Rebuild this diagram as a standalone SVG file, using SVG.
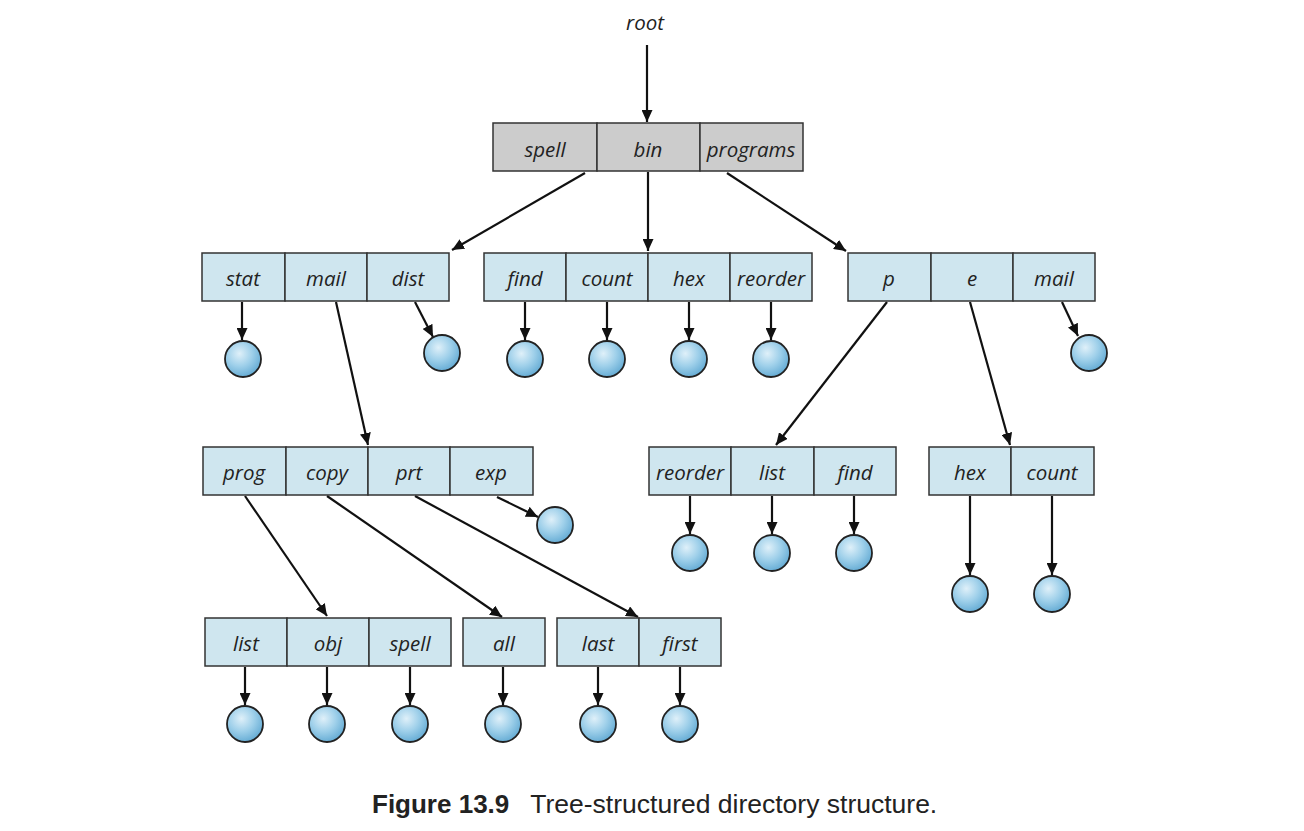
<svg xmlns="http://www.w3.org/2000/svg" width="1304" height="831" viewBox="0 0 1304 831">
<style>
.cell{fill:#cfe6ef;stroke:#333;stroke-width:1.5}
.gray{fill:#cccccc;stroke:#333;stroke-width:1.5}
.lbl{font-family:"Open Sans","Liberation Sans",sans-serif;font-style:italic;font-size:20.5px;fill:#222;text-anchor:middle}
.file{fill:url(#ball);stroke:#222;stroke-width:1.8}
.edge{stroke:#111;stroke-width:2.2;fill:none;marker-end:url(#ah)}
.cap{font-family:"Liberation Sans",Arial,sans-serif;font-size:26px;fill:#222}
</style>
<defs>
<radialGradient id="ball" cx="0.4" cy="0.35" r="0.7">
<stop offset="0" stop-color="#dff0f9"/>
<stop offset="0.5" stop-color="#9fd0ea"/>
<stop offset="1" stop-color="#5fa8d2"/>
</radialGradient>
<marker id="ah" markerWidth="13" markerHeight="11" refX="12" refY="5.5" orient="auto" markerUnits="userSpaceOnUse">
<path d="M0,0 L12,5.5 L0,11 Z" fill="#111"/>
</marker>
</defs>
<text class="lbl" x="645" y="30">root</text>
<g id="connectors">
<line class="edge" x1="647" y1="45" x2="647" y2="122"/>
<line class="edge" x1="585" y1="173" x2="452" y2="250"/>
<line class="edge" x1="648" y1="172" x2="648" y2="251"/>
<line class="edge" x1="727" y1="173" x2="846" y2="251"/>
<line class="edge" x1="242" y1="302" x2="242" y2="340"/>
<line class="edge" x1="336" y1="302" x2="368" y2="445"/>
<line class="edge" x1="415" y1="302" x2="433" y2="337"/>
<line class="edge" x1="525" y1="302" x2="525" y2="340"/>
<line class="edge" x1="607" y1="302" x2="607" y2="340"/>
<line class="edge" x1="689" y1="302" x2="689" y2="340"/>
<line class="edge" x1="771" y1="302" x2="771" y2="340"/>
<line class="edge" x1="887" y1="302" x2="776" y2="445"/>
<line class="edge" x1="970" y1="302" x2="1010" y2="445"/>
<line class="edge" x1="1062" y1="302" x2="1078" y2="336"/>
<line class="edge" x1="245" y1="496" x2="327" y2="616"/>
<line class="edge" x1="327" y1="496" x2="502" y2="617"/>
<line class="edge" x1="415" y1="496" x2="638" y2="617"/>
<line class="edge" x1="497" y1="497" x2="538" y2="517"/>
<line class="edge" x1="690" y1="496" x2="690" y2="534"/>
<line class="edge" x1="772" y1="496" x2="772" y2="534"/>
<line class="edge" x1="854" y1="496" x2="854" y2="534"/>
<line class="edge" x1="970" y1="496" x2="970" y2="575"/>
<line class="edge" x1="1052" y1="496" x2="1052" y2="575"/>
<line class="edge" x1="245" y1="667" x2="245" y2="705"/>
<line class="edge" x1="327" y1="667" x2="327" y2="705"/>
<line class="edge" x1="410" y1="667" x2="410" y2="705"/>
<line class="edge" x1="503" y1="667" x2="503" y2="705"/>
<line class="edge" x1="598" y1="667" x2="598" y2="705"/>
<line class="edge" x1="680" y1="667" x2="680" y2="705"/>
</g>
<g id="root-dir">
<rect class="gray" x="493" y="123" width="104" height="48"/>
<rect class="gray" x="597" y="123" width="103" height="48"/>
<rect class="gray" x="700" y="123" width="103" height="48"/>
<text class="lbl" x="545" y="157">spell</text>
<text class="lbl" x="648" y="157">bin</text>
<text class="lbl" x="751" y="157">programs</text>
</g>
<g id="spell-dir">
<rect class="cell" x="202" y="253" width="83" height="48"/>
<rect class="cell" x="285" y="253" width="82" height="48"/>
<rect class="cell" x="367" y="253" width="82" height="48"/>
<text class="lbl" x="243" y="286">stat</text>
<text class="lbl" x="326" y="286">mail</text>
<text class="lbl" x="408" y="286">dist</text>
</g>
<g id="bin-dir">
<rect class="cell" x="484" y="253" width="82" height="48"/>
<rect class="cell" x="566" y="253" width="82" height="48"/>
<rect class="cell" x="648" y="253" width="82" height="48"/>
<rect class="cell" x="730" y="253" width="82" height="48"/>
<text class="lbl" x="525" y="286">find</text>
<text class="lbl" x="607" y="286">count</text>
<text class="lbl" x="689" y="286">hex</text>
<text class="lbl" x="771" y="286">reorder</text>
</g>
<g id="programs-dir">
<rect class="cell" x="848" y="253" width="83" height="48"/>
<rect class="cell" x="931" y="253" width="82" height="48"/>
<rect class="cell" x="1013" y="253" width="82" height="48"/>
<text class="lbl" x="889" y="286">p</text>
<text class="lbl" x="972" y="286">e</text>
<text class="lbl" x="1054" y="286">mail</text>
</g>
<g id="mail-dir">
<rect class="cell" x="203" y="447" width="83" height="48"/>
<rect class="cell" x="286" y="447" width="82" height="48"/>
<rect class="cell" x="368" y="447" width="82" height="48"/>
<rect class="cell" x="450" y="447" width="83" height="48"/>
<text class="lbl" x="244" y="480">prog</text>
<text class="lbl" x="327" y="480">copy</text>
<text class="lbl" x="409" y="480">prt</text>
<text class="lbl" x="491" y="480">exp</text>
</g>
<g id="p-dir">
<rect class="cell" x="649" y="447" width="82" height="48"/>
<rect class="cell" x="731" y="447" width="83" height="48"/>
<rect class="cell" x="814" y="447" width="82" height="48"/>
<text class="lbl" x="690" y="480">reorder</text>
<text class="lbl" x="772" y="480">list</text>
<text class="lbl" x="855" y="480">find</text>
</g>
<g id="e-dir">
<rect class="cell" x="929" y="447" width="82" height="48"/>
<rect class="cell" x="1011" y="447" width="83" height="48"/>
<text class="lbl" x="970" y="480">hex</text>
<text class="lbl" x="1052" y="480">count</text>
</g>
<g id="prog-dir">
<rect class="cell" x="205" y="618" width="82" height="48"/>
<rect class="cell" x="287" y="618" width="82" height="48"/>
<rect class="cell" x="369" y="618" width="82" height="48"/>
<text class="lbl" x="246" y="651">list</text>
<text class="lbl" x="328" y="651">obj</text>
<text class="lbl" x="410" y="651">spell</text>
</g>
<g id="copy-dir">
<rect class="cell" x="463" y="618" width="82" height="48"/>
<text class="lbl" x="504" y="651">all</text>
</g>
<g id="prt-dir">
<rect class="cell" x="557" y="618" width="82" height="48"/>
<rect class="cell" x="639" y="618" width="82" height="48"/>
<text class="lbl" x="598" y="651">last</text>
<text class="lbl" x="680" y="651">first</text>
</g>
<g id="files">
<circle class="file" cx="243" cy="359" r="18"/>
<circle class="file" cx="442" cy="353" r="18"/>
<circle class="file" cx="525" cy="359" r="18"/>
<circle class="file" cx="607" cy="359" r="18"/>
<circle class="file" cx="689" cy="359" r="18"/>
<circle class="file" cx="771" cy="359" r="18"/>
<circle class="file" cx="1089" cy="353" r="18"/>
<circle class="file" cx="555" cy="525" r="18"/>
<circle class="file" cx="690" cy="553" r="18"/>
<circle class="file" cx="772" cy="553" r="18"/>
<circle class="file" cx="854" cy="553" r="18"/>
<circle class="file" cx="970" cy="594" r="18"/>
<circle class="file" cx="1052" cy="594" r="18"/>
<circle class="file" cx="245" cy="724" r="18"/>
<circle class="file" cx="327" cy="724" r="18"/>
<circle class="file" cx="410" cy="724" r="18"/>
<circle class="file" cx="503" cy="724" r="18"/>
<circle class="file" cx="598" cy="724" r="18"/>
<circle class="file" cx="680" cy="724" r="18"/>
</g>
<text class="cap" x="372" y="813"><tspan font-weight="bold">Figure 13.9</tspan><tspan dx="21" font-size="26.5px">Tree-structured directory structure.</tspan></text>
</svg>
